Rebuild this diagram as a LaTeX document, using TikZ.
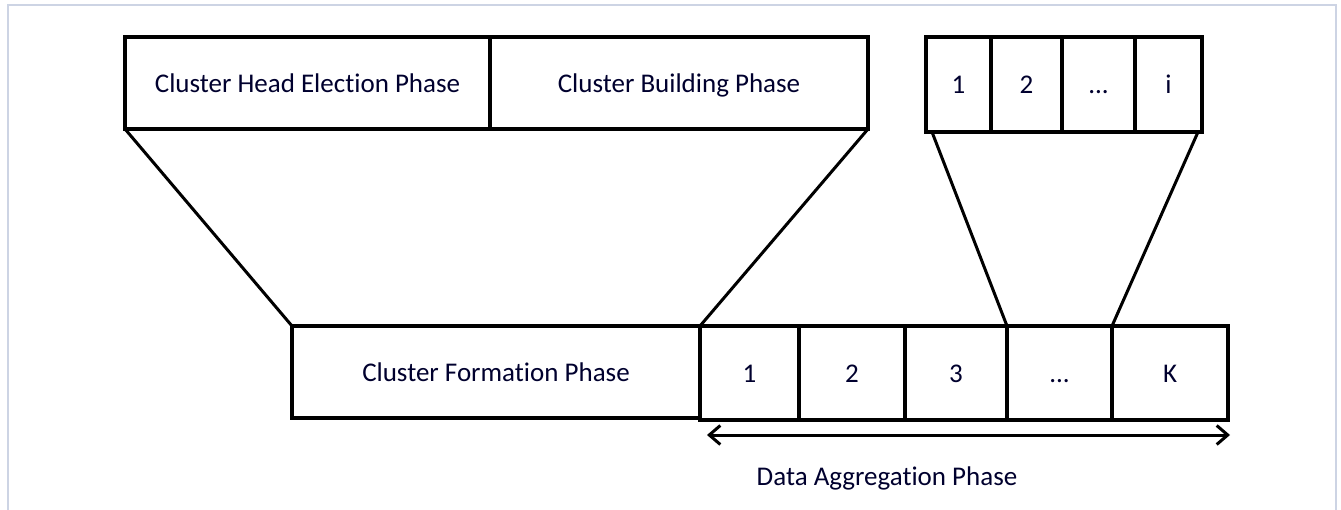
\documentclass[tikz,border=0pt]{standalone}
\usepackage{fontspec}
\setmainfont[Ligatures={NoCommon}]{Carlito}
\usetikzlibrary{arrows.meta}
\begin{document}
\begin{tikzpicture}[x=1pt,y=-1pt,
  label text/.style={font=\fontsize{27}{30}\selectfont,text=black!82!blue,
    text height=21pt,text depth=2pt},
  cell/.style={draw=black,line width=3.5pt,minimum height=#1,inner sep=0pt,outer sep=0pt,label text},
  cell/.default=92pt,
  funnel/.style={line width=3pt,line cap=round}]
\useasboundingbox (0,0) rectangle (1341,510);
\fill[white] (0,0) rectangle (1341,510);
% outer frame
\draw[color={rgb,255:red,205;green,212;blue,228},line width=1.5pt] (8,515) -- (8,5) -- (1336,5) -- (1336,515);

% upper-left expansion: the formation phase in detail
\node[cell,minimum width=365pt,anchor=north west] (che) at (125,37) {Cluster Head Election Phase};
\node[cell,minimum width=378pt,anchor=north west] (cbp) at (490,37) {Cluster Building Phase};

% upper-right expansion: one aggregation round in detail
\node[cell=95pt,minimum width=65pt,anchor=north west] (s1) at (926,37) {1};
\node[cell=95pt,minimum width=71pt,anchor=north west] (s2) at (991,37) {2};
\node[cell=95pt,minimum width=73pt,anchor=north west] (sd) at (1062,37) {.{}.{}.};
\node[cell=95pt,minimum width=67pt,anchor=north west] (si) at (1135,37) {i};

% lower row
\node[cell,minimum width=408pt,anchor=north west] (cfp) at (292,326) {Cluster Formation Phase};
\node[cell=94pt,minimum width=99pt,anchor=north west] (r1) at (700,326) {1};
\node[cell=94pt,minimum width=106pt,anchor=north west] (r2) at (799,326) {2};
\node[cell=94pt,minimum width=102pt,anchor=north west] (r3) at (905,326) {3};
\node[cell=94pt,minimum width=105pt,anchor=north west] (rd) at (1007,326) {.{}.{}.};
\node[cell=94pt,minimum width=116pt,anchor=north west] (rk) at (1112,326) {K};

% funnel lines
\draw[funnel] (che.south west) -- (cfp.north west);
\draw[funnel] (cbp.south east) -- (cfp.north east);
\draw[funnel] ([xshift=6pt]s1.south west) -- (rd.north west);
\draw[funnel] ([xshift=-4pt]si.south east) -- (rd.north east);

% span of the aggregation phase
\coordinate (aL) at (707,435);
\coordinate (aR) at (1230,435);
\draw[line width=3pt,{Straight Barb[length=11pt,width=19pt,line width=3pt]}-{Straight Barb[length=11pt,width=19pt,line width=3pt]}] (aL) -- (aR);
\node[label text] (dap) at (887,476) {Data Aggregation Phase};
\end{tikzpicture}
\end{document}
